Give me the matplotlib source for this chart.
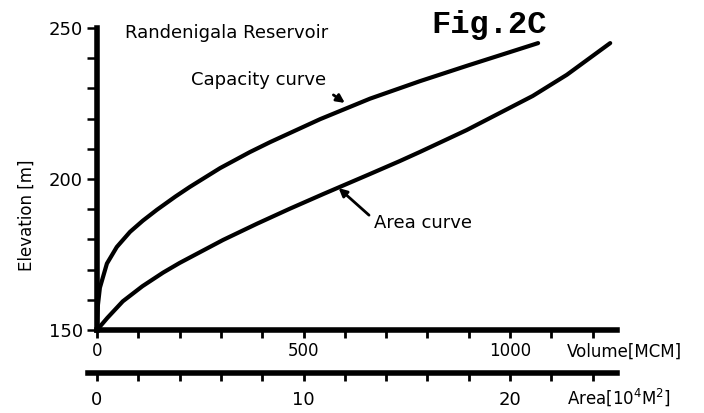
import matplotlib
matplotlib.use('Agg')
import matplotlib.pyplot as plt
from matplotlib.ticker import MultipleLocator

# Capacity curve: volume (MCM) vs elevation (m)
cap_volume = [0, 2, 7, 24, 48, 80, 111, 145, 190, 225, 298, 370, 419, 540, 661, 782, 896, 1068]
cap_elev = [152, 158, 164, 172, 177.5, 182.5, 186.2, 189.8, 194.2, 197.4, 203.6, 208.9, 212.2,
            219.8, 226.6, 232.4, 237.5, 245]

# Area curve: area (10^4 m2) vs elevation (m)
area_vals = [0, 0.5, 1.25, 2.2, 3.2, 4.0, 6.1, 7.75, 9.35, 10.95, 13.2, 14.65, 15.65, 17.9, 21.1, 22.75, 24.85]
area_elev = [150, 154, 159.5, 164.5, 169, 172.2, 179.8, 185.2, 190.2, 195, 201.6, 205.9, 209,
             216.2, 227.5, 234.5, 245]

vol_max = 1259
area_max = vol_max / 50

plt.rcParams['font.family'] = ['DejaVu Sans']

fig = plt.figure(figsize=(7.04, 4.13), dpi=100)
ax = fig.add_axes([97 / 704, 83 / 413, 520 / 704, 302 / 413])

# main (volume) axis
ax.plot(cap_volume, cap_elev, color='black', lw=3, solid_capstyle='round', solid_joinstyle='round')
ax.set_xlim(0, vol_max)
ax.set_ylim(150, 250)
for s in ['top', 'right']:
    ax.spines[s].set_visible(False)
ax.spines['left'].set_linewidth(4)
ax.spines['bottom'].set_linewidth(4)

ax.xaxis.set_major_locator(MultipleLocator(500))
ax.xaxis.set_minor_locator(MultipleLocator(100))
ax.yaxis.set_major_locator(MultipleLocator(50))
ax.yaxis.set_minor_locator(MultipleLocator(10))
ax.tick_params(axis='x', which='both', direction='out', length=6, width=2, pad=3, labelsize=12)
ax.tick_params(axis='y', which='both', direction='out', length=7, width=1.8, pad=3, labelsize=13)

# area axis below
ax2 = ax.twiny()
ax2.plot(area_vals, area_elev, color='black', lw=3, solid_capstyle='round', solid_joinstyle='round')
ax2.set_xlim(0, area_max)
for s in ['top', 'right', 'left']:
    ax2.spines[s].set_visible(False)
ax2.spines['bottom'].set_visible(True)
ax2.spines['bottom'].set_position(('outward', 31))
ax2.spines['bottom'].set_linewidth(4)
ax2.spines['bottom'].set_bounds(-0.45, area_max)
ax2.xaxis.set_ticks_position('bottom')
ax2.xaxis.set_label_position('bottom')
ax2.xaxis.set_major_locator(MultipleLocator(10))
ax2.xaxis.set_minor_locator(MultipleLocator(2))
ax2.tick_params(axis='x', which='both', direction='out', length=6, width=2, pad=7, labelsize=13)

# annotations
ax.annotate('Capacity curve', xy=(600, 225.2), xytext=(392, 232.8), fontsize=13,
            ha='center', va='center',
            arrowprops=dict(arrowstyle='-|>', color='black', lw=2, mutation_scale=12,
                            shrinkA=4, shrinkB=0, relpos=(0.95, 0.2)))
ax.annotate('Area curve', xy=(585, 197), xytext=(789, 185.4), fontsize=13,
            ha='center', va='center',
            arrowprops=dict(arrowstyle='-|>', color='black', lw=2, mutation_scale=12,
                            shrinkA=2, shrinkB=0, relpos=(0.0, 0.7)))

# titles and axis labels
fig.text(125 / 704, 1 - 33 / 413, 'Randenigala Reservoir', fontsize=13, ha='left', va='center')
fig.text(489 / 704, 1 - 25 / 413, 'Fig.2C', fontsize=23, fontweight='bold',
         family='Liberation Mono', ha='center', va='center')
fig.text(27 / 704, 1 - 215 / 413, 'Elevation [m]', fontsize=12, rotation=90, ha='center', va='center')
fig.text(567 / 704, 1 - 352 / 413, 'Volume[MCM]', fontsize=12, ha='left', va='center')
fig.text(567 / 704, 1 - 397 / 413, 'Area[10$^4$M$^2$]', fontsize=12, ha='left', va='center')

plt.savefig('out.png', dpi=100)
